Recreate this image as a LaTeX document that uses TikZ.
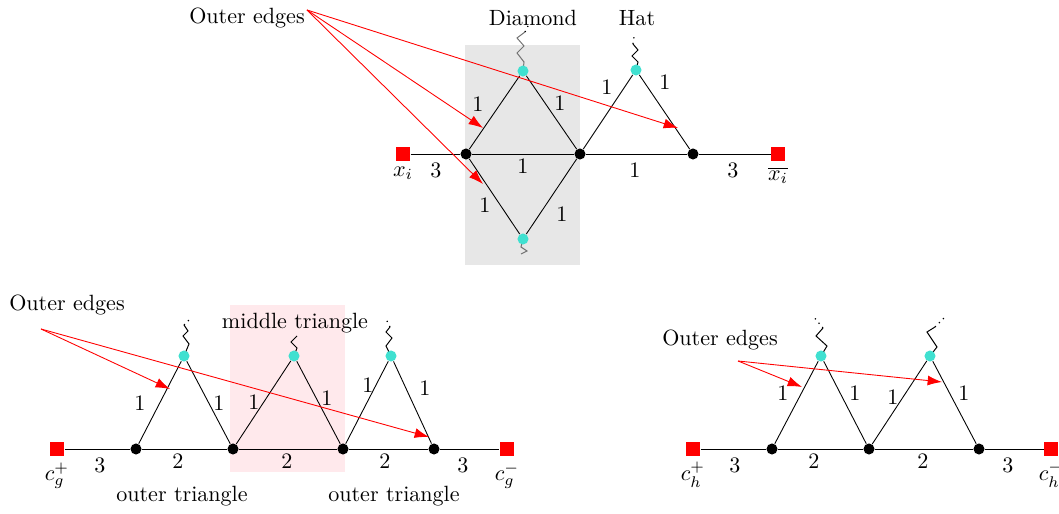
\documentclass[tikz,border=0pt]{standalone}
\usetikzlibrary{arrows.meta}
\definecolor{turq}{RGB}{64,224,208}
\definecolor{lgray}{RGB}{231,231,231}
\definecolor{lpink}{RGB}{255,233,236}
\tikzset{
 term/.style={rectangle,fill=red,minimum size=6.4pt,inner sep=0pt},
 bdot/.style={circle,fill=black,minimum size=5pt,inner sep=0pt},
 cdot/.style={circle,fill=turq,minimum size=5pt,inner sep=0pt},
 edgeline/.style={black,line width=0.4pt},
 wig/.style={line width=0.45pt},
 wigend/.style={dotted,line width=0.55pt},
 oarrow/.style={red,line width=0.4pt,-{Latex[length=6.5pt,width=4.5pt]}},
 lbl/.style={inner sep=1pt},
}
\begin{document}
\begin{tikzpicture}[x=0.453pt,y=-0.453pt]
\useasboundingbox (0,0) rectangle (1059,514);
% backgrounds
\fill[lgray] (465,45) rectangle (580,265);
\fill[lpink] (230,305) rectangle (345,472);

% ===== top gadget =====
\node[term] (xi) at (403,154) {};
\node[bdot] (a1) at (466,154) {};
\node[bdot] (a2) at (580,154) {};
\node[bdot] (a3) at (693,154) {};
\node[term] (xib) at (778,154) {};
% wiggles (drawn first, behind dots)
\draw[wig,black!55] (523,71) -- (524,62) -- (517,53) -- (524,46) -- (517,38) -- (525,32) coordinate (dtw);
\draw[wigend] (dtw) -- ++(3,-6);
\draw[wig,black!55] (523,239) -- (521,247) -- (527,251) -- (521,254);
\draw[wig] (636,70) -- (638,62) -- (632,56) -- (638,50) -- (633,44) coordinate (htw);
\draw[wigend] (htw) -- ++(1,-7);
\node[cdot] (dt) at (523,71) {};
\node[cdot] (db) at (523,239) {};
\node[cdot] (ht) at (636,70) {};
\draw[edgeline] (xi) -- (a1) -- (a2) -- (a3) -- (xib);
\draw[edgeline] (a1) -- (dt) -- (a2) -- (db) -- (a1);
\draw[edgeline] (a2) -- (ht) -- (a3);
\node[anchor=north,lbl] at (403,164) {$x_i$};
\node[anchor=north,lbl] at (778,164) {$\overline{x_i}$};
\node at (436,170) {3};
\node at (523,166) {1};
\node at (635,170) {1};
\node at (733,170) {3};
\node at (478,104) {1};
\node at (560,103) {1};
\node at (485,205) {1};
\node at (562,214) {1};
\node at (607,87) {1};
\node at (665,82) {1};
\node (diam) at (533,18) {Diamond};
\node (hat) at (637,18) {Hat};
\node (oe1) at (247,18) {Outer edges};
\coordinate (oe1s) at (307,10);
\coordinate (t1) at (483,128);
\coordinate (t2) at (483,184);
\coordinate (t3) at (678,128);
\draw[oarrow] (oe1s) -- (t1);
\draw[oarrow] (oe1s) -- (t2);
\draw[oarrow] (oe1s) -- (t3);

% ===== bottom-left gadget =====
\node[term] (cgp) at (57,449) {};
\node[bdot] (b1) at (136,449) {};
\node[bdot] (b2) at (233,449) {};
\node[bdot] (b3) at (343,449) {};
\node[bdot] (b4) at (434,449) {};
\node[term] (cgm) at (507,449) {};
\draw[wig] (184,356) -- (189,344) -- (183,336) -- (188,331) -- (184,325) coordinate (bw1);
\draw[wigend] (bw1) -- ++(6,-6);
\draw[wig] (294,356) -- (297,348) -- (291,342) -- (297,336) coordinate (bw2);
\draw[wig] (391,356) -- (386,346) -- (392,338) -- (386,332) -- (390,327) coordinate (bw3);
\draw[wigend] (bw3) -- ++(-4,-8);
\node[cdot] (bt1) at (184,356) {};
\node[cdot] (bt2) at (294,356) {};
\node[cdot] (bt3) at (391,356) {};
\draw[edgeline] (cgp) -- (b1) -- (b2) -- (b3) -- (b4) -- (cgm);
\draw[edgeline] (b1) -- (bt1) -- (b2) -- (bt2) -- (b3) -- (bt3) -- (b4);
\node[anchor=north,lbl] at (57,460) {$c_g^+$};
\node[anchor=north,lbl] at (507,460) {$c_g^-$};
\node at (100,465) {3};
\node at (178,461) {2};
\node at (287,461) {2};
\node at (385,461) {2};
\node at (463,465) {3};
\node at (140,403) {1};
\node at (219,403) {1};
\node at (254,402) {1};
\node at (327,398) {1};
\node at (368,385) {1};
\node at (425,388) {1};
\node (mid) at (295,323) {middle triangle};
\node (ot1) at (182,496) {outer triangle};
\node (ot2) at (394,496) {outer triangle};
\node (oe2) at (67,305) {Outer edges};
\coordinate (oe2s) at (41,329);
\coordinate (u1) at (170,389);
\coordinate (u2) at (429,437);
\draw[oarrow] (oe2s) -- (u1);
\draw[oarrow] (oe2s) -- (u2);

% ===== bottom-right gadget =====
\node[term] (chp) at (693,449) {};
\node[bdot] (c1) at (772,449) {};
\node[bdot] (c2) at (869,449) {};
\node[bdot] (c3) at (979,449) {};
\node[term] (chm) at (1051,449) {};
\draw[wig] (821,356) -- (827,346) -- (816,336) -- (823,328) coordinate (cw1);
\draw[wigend] (cw1) -- ++(-10,-12);
\draw[wig] (930,356) -- (937,347) -- (927,332) -- (935,327) coordinate (cw2);
\draw[wigend] (cw2) -- ++(9,-9);
\node[cdot] (ct1) at (821,356) {};
\node[cdot] (ct2) at (930,356) {};
\draw[edgeline] (chp) -- (c1) -- (c2) -- (c3) -- (chm);
\draw[edgeline] (c1) -- (ct1) -- (c2) -- (ct2) -- (c3);
\node[anchor=north,lbl] at (693,459) {$c_h^+$};
\node[anchor=north,lbl] at (1051,459) {$c_h^-$};
\node at (735,465) {3};
\node at (814,461) {2};
\node at (923,461) {2};
\node at (1008,465) {3};
\node at (783,393) {1};
\node at (855,393) {1};
\node at (893,397) {1};
\node at (964,393) {1};
\node (oe3) at (720,340) {Outer edges};
\coordinate (oe3s) at (738,361);
\coordinate (v1) at (802,387);
\coordinate (v2) at (942,382);
\draw[oarrow] (oe3s) -- (v1);
\draw[oarrow] (oe3s) -- (v2);
\end{tikzpicture}
\end{document}
